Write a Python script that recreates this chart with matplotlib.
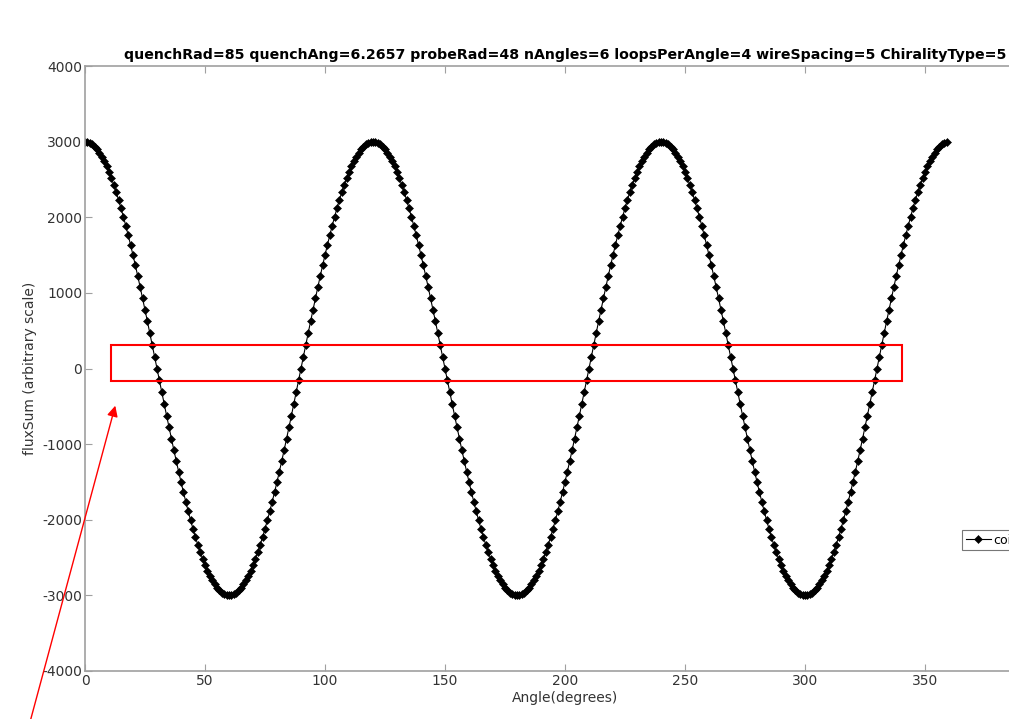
import matplotlib
matplotlib.use('Agg')
from matplotlib import pyplot as plt
from matplotlib.patches import Rectangle, FancyArrowPatch

plt.rcParams['axes.unicode_minus'] = False

# angle in degrees, one sample per degree
angles = list(range(360))

# fluxSum values (three identical periods of 120 degrees)
flux_sum = [
    3000, 2996, 2984, 2963, 2934, 2898, 2853, 2801, 2741, 2673, 2598, 2516, 2427, 2331, 2229,
    2121, 2007, 1888, 1763, 1634, 1500, 1362, 1220, 1075, 927, 776, 624, 469, 314, 157, 0,
    -157, -314, -469, -624, -776, -927, -1075, -1220, -1362, -1500, -1634, -1763, -1888, -2007,
    -2121, -2229, -2331, -2427, -2516, -2598, -2673, -2741, -2801, -2853, -2898, -2934, -2963,
    -2984, -2996, -3000,
    -2996, -2984, -2963, -2934, -2898, -2853, -2801, -2741, -2673, -2598, -2516, -2427, -2331,
    -2229, -2121, -2007, -1888, -1763, -1634, -1500, -1362, -1220, -1075, -927, -776, -624,
    -469, -314, -157, 0,
    157, 314, 469, 624, 776, 927, 1075, 1220, 1362, 1500, 1634, 1763, 1888, 2007, 2121, 2229,
    2331, 2427, 2516, 2598, 2673, 2741, 2801, 2853, 2898, 2934, 2963, 2984, 2996,
    # second period
    3000, 2996, 2984, 2963, 2934, 2898, 2853, 2801, 2741, 2673, 2598, 2516, 2427, 2331, 2229,
    2121, 2007, 1888, 1763, 1634, 1500, 1362, 1220, 1075, 927, 776, 624, 469, 314, 157, 0,
    -157, -314, -469, -624, -776, -927, -1075, -1220, -1362, -1500, -1634, -1763, -1888, -2007,
    -2121, -2229, -2331, -2427, -2516, -2598, -2673, -2741, -2801, -2853, -2898, -2934, -2963,
    -2984, -2996, -3000,
    -2996, -2984, -2963, -2934, -2898, -2853, -2801, -2741, -2673, -2598, -2516, -2427, -2331,
    -2229, -2121, -2007, -1888, -1763, -1634, -1500, -1362, -1220, -1075, -927, -776, -624,
    -469, -314, -157, 0,
    157, 314, 469, 624, 776, 927, 1075, 1220, 1362, 1500, 1634, 1763, 1888, 2007, 2121, 2229,
    2331, 2427, 2516, 2598, 2673, 2741, 2801, 2853, 2898, 2934, 2963, 2984, 2996,
    # third period
    3000, 2996, 2984, 2963, 2934, 2898, 2853, 2801, 2741, 2673, 2598, 2516, 2427, 2331, 2229,
    2121, 2007, 1888, 1763, 1634, 1500, 1362, 1220, 1075, 927, 776, 624, 469, 314, 157, 0,
    -157, -314, -469, -624, -776, -927, -1075, -1220, -1362, -1500, -1634, -1763, -1888, -2007,
    -2121, -2229, -2331, -2427, -2516, -2598, -2673, -2741, -2801, -2853, -2898, -2934, -2963,
    -2984, -2996, -3000,
    -2996, -2984, -2963, -2934, -2898, -2853, -2801, -2741, -2673, -2598, -2516, -2427, -2331,
    -2229, -2121, -2007, -1888, -1763, -1634, -1500, -1362, -1220, -1075, -927, -776, -624,
    -469, -314, -157, 0,
    157, 314, 469, 624, 776, 927, 1075, 1220, 1362, 1500, 1634, 1763, 1888, 2007, 2121, 2229,
    2331, 2427, 2516, 2598, 2673, 2741, 2801, 2853, 2898, 2934, 2963, 2984, 2996,
]

x_ticks = [0, 50, 100, 150, 200, 250, 300, 350]
y_ticks = [-4000, -3000, -2000, -1000, 0, 1000, 2000, 3000, 4000]
title = ('quenchRad=85 quenchAng=6.2657 probeRad=48 nAngles=6 '
         'loopsPerAngle=4 wireSpacing=5 ChiralityType=5')

W, H = 1009, 719
fig = plt.figure(figsize=(W / 100, H / 100), dpi=100)
# the axes runs past the right edge of the picture (the original is cropped)
ax = fig.add_axes([85 / W, 1 - 671 / H, 960 / W, 605 / H])

ax.plot(angles, flux_sum, color='black', linewidth=0.8, marker='D',
        markersize=3.8, markeredgewidth=0.4, label='coil')

ax.set_xlim(0, 400)
ax.set_ylim(-4000, 4000)
ax.set_xticks(x_ticks)
ax.set_yticks(y_ticks)
ax.tick_params(axis='both', direction='in', length=5, width=0.8, color='#a0a0a0',
               labelsize=10, labelcolor='#333333', top=True, right=True, pad=2)
for s in ax.spines.values():
    s.set_color('#a0a0a0')
    s.set_linewidth(1.2)

ax.set_title(title, fontsize=10.2, fontweight='bold', pad=5)
ax.set_xlabel('Angle(degrees)', fontsize=10, color='#333333', labelpad=2)
ax.set_ylabel('fluxSum (arbitrary scale)', fontsize=10, color='#333333', labelpad=4)

# legend sits at the cropped right edge, only its start is visible
leg = ax.legend(loc='center left', bbox_to_anchor=(962 / W, 1 - 540 / H),
                bbox_transform=fig.transFigure, fontsize=9, frameon=True,
                fancybox=False, handlelength=2.0, borderpad=0.3, handletextpad=0.2,
                borderaxespad=0)
leg.get_frame().set_edgecolor('#555555')
leg.get_frame().set_linewidth(0.8)

# red highlight box and arrow drawn on top of the figure
fig.patches.append(Rectangle((111 / W, 1 - 381 / H), (902 - 111) / W, 36 / H,
                             transform=fig.transFigure, fill=False,
                             edgecolor='red', linewidth=1.5))
fig.patches.append(FancyArrowPatch((30 / W, 1 - 722 / H), (116 / W, 1 - 403 / H),
                                   transform=fig.transFigure, arrowstyle='-|>',
                                   mutation_scale=16, color='red', linewidth=1))

fig.savefig('out.png', dpi=100)
